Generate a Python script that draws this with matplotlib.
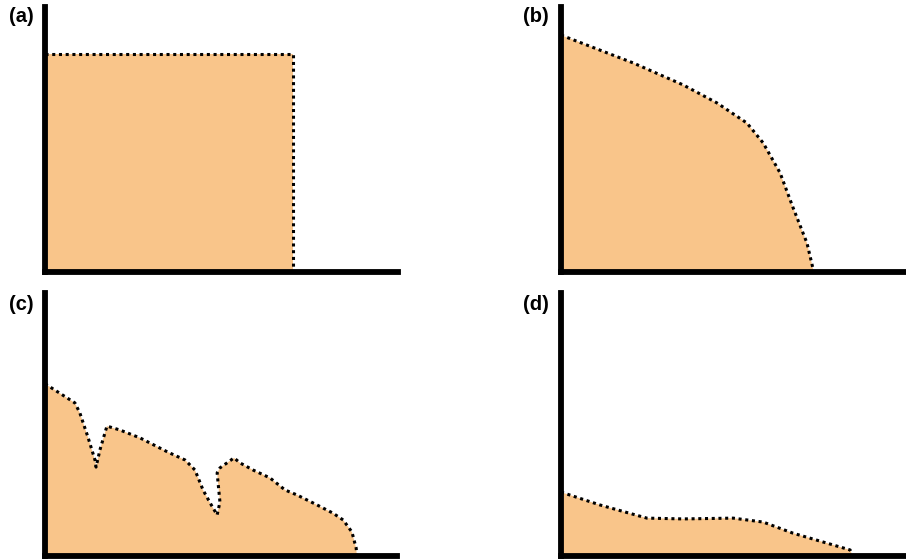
import numpy as np
import matplotlib
matplotlib.use('Agg')
from matplotlib import pyplot as plt

plt.rcParams['font.family'] = ['Liberation Sans', 'DejaVu Sans']

W, H = 906, 560
fill_color = '#F9C58A'

# panel outlines, x and y in percent of each panel's axis length
a_x = [0, 70.3, 70.3]
a_y = [82.3, 82.3, 0]

b_x = [0, 20.9, 35.4, 45.2, 53.9, 58.6, 63.5, 67.2, 71.3, 73.0, 73.3]
b_y = [89.4, 78.9, 70.6, 63.8, 56.2, 48.7, 37.4, 24.5, 10.9, 1.5, 0]

c_x = [0, 8.5, 9.9, 12.2, 14.2, 14.5, 15.6, 17.6, 21.3, 27.0, 34.9, 39.8, 42.6,
       44.9, 46.9, 48.9, 49.7, 48.9, 49.7, 53.7, 55.4, 59.1, 63.9, 68.2, 71.6,
       77.3, 81.8, 84.7, 87.2, 88.4, 88.6]
c_y = [65.5, 58.2, 54.4, 45.2, 36.5, 33.8, 40.3, 49.4, 47.9, 44.9, 39.5, 36.5, 32.7,
       25.1, 20.2, 15.6, 20.5, 31.6, 33.5, 37.3, 35.4, 32.7, 29.7, 25.1, 23.2,
       19.4, 16.3, 13.7, 9.1, 3.0, 0]

d_x = [0, 11.3, 24.9, 35.4, 49.9, 58.6, 67.2, 83.8, 84.6]
d_y = [24.3, 19.4, 14.4, 14.1, 14.4, 12.9, 8.7, 2.3, 0]

labels = ['(a)', '(b)', '(c)', '(d)']

# axes boxes in pixels: left, bottom (from top), width, height
boxes = [(45, 272, 353, 265), (561, 272, 345, 265),
         (45, 556, 352, 263), (561, 556, 345, 263)]
label_pos = [(34, 17), (549, 17), (34, 304), (549, 304)]
curves = [(a_x, a_y), (b_x, b_y), (c_x, c_y), (d_x, d_y)]

fig = plt.figure(figsize=(W/100, H/100), dpi=100)
for (l, b, w, h), (x, y), lab, (lx, ly) in zip(boxes, curves, labels, label_pos):
    ax = fig.add_axes([l/W, (H-b)/H, w/W, h/H])
    ax.set_xlim(0, 100)
    ax.set_ylim(0, 100)
    ax.fill(np.append(x, 0), np.append(y, 0), color=fill_color, lw=0)
    ax.plot(x, y, color='black', lw=2.2, linestyle=(0, (1, 1.2)),
            dash_capstyle='butt')
    ax.set_xticks([])
    ax.set_yticks([])
    for s in ['top', 'right']:
        ax.spines[s].set_visible(False)
    for s in ['left', 'bottom']:
        ax.spines[s].set_linewidth(4.2)
        ax.spines[s].set_capstyle('projecting')
        ax.spines[s].set_zorder(5)
    fig.text(lx/W, 1-ly/H, lab, ha='right', va='center', fontsize=14.5,
             fontweight='bold')

fig.savefig('out.png', dpi=100)
